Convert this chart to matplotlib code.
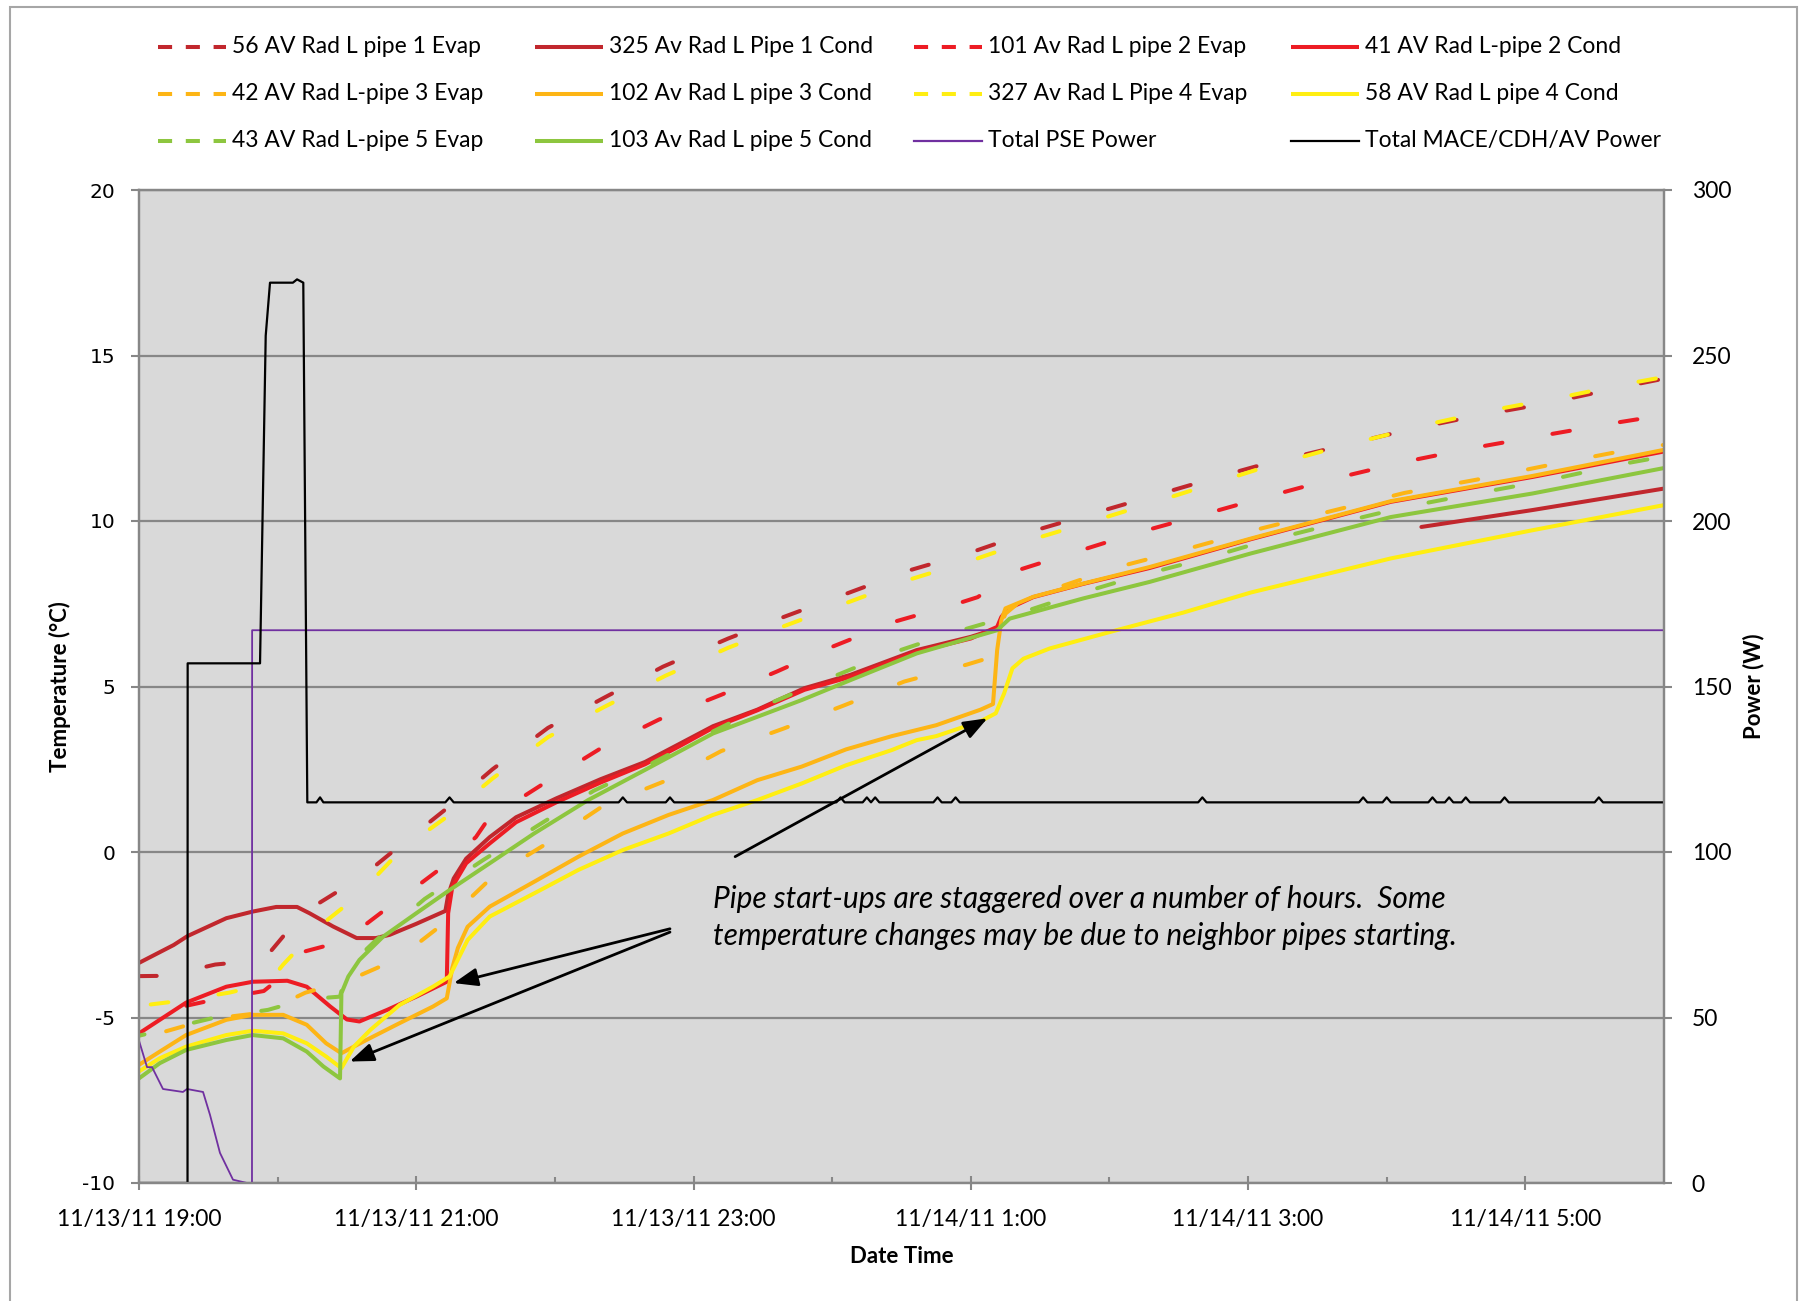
import numpy as np
import matplotlib
matplotlib.use("Agg")
import matplotlib.pyplot as plt
from matplotlib.lines import Line2D
from matplotlib.patches import Rectangle

plt.rcParams['font.family'] = ['Lato', 'DejaVu Sans']
plt.rcParams['axes.unicode_minus'] = False

FIG_W, FIG_H, DPI = 1803, 1301, 100

# ---------------- data (x = hours after 11/13/11 19:00) ----------------
x_tick_hours = [0, 2, 4, 6, 8, 10]
x_tick_labels = ["11/13/11 19:00", "11/13/11 21:00", "11/13/11 23:00",
                 "11/14/11 1:00", "11/14/11 3:00", "11/14/11 5:00"]
temp_ticks = [-10, -5, 0, 5, 10, 15, 20]
power_ticks = [0, 50, 100, 150, 200, 250, 300]

# 56 AV Rad L pipe 1 Evap
t_p1_evap = [0.0, 0.2, 0.55, 0.8, 0.95, 1.05, 1.2, 1.45, 1.65, 1.87, 2.2, 2.55, 2.95, 3.35,
             3.78, 4.25, 4.65, 5.1, 5.55, 6.0, 6.45, 6.9, 7.35, 7.8, 8.1, 8.6, 9.15, 9.65,
             10.15, 10.7, 11.0]
T_p1_evap = [-3.75, -3.74, -3.4, -3.3, -3.0, -2.5, -1.8, -1.15, -0.6, 0.15, 1.25, 2.5, 3.75, 4.65,
             5.6, 6.45, 7.1, 7.8, 8.5, 9.05, 9.7, 10.25, 10.8, 11.35, 11.7, 12.2, 12.75, 13.18,
             13.55, 14.05, 14.3]
# 325 Av Rad L Pipe 1 Cond
t_p1_cond = [0.0, 0.25, 0.35, 0.63, 0.82, 0.99, 1.14, 1.23, 1.40, 1.57, 1.71, 1.81, 2.0, 2.21,
             2.23, 2.27, 2.36, 2.53, 2.72, 3.01, 3.33, 3.65, 3.9, 4.14, 4.46, 4.8, 5.13, 5.61,
             6.0, 6.19, 6.2, 9.25, 10.05, 11.0]
T_p1_cond = [-3.35, -2.81, -2.54, -2.0, -1.8, -1.66, -1.66, -1.85, -2.25, -2.6, -2.6, -2.5, -2.17, -1.78,
             -1.3, -0.8, -0.2, 0.45, 1.05, 1.62, 2.2, 2.72, 3.27, 3.8, 4.3, 4.95, 5.35, 6.1,
             6.5, 6.75, np.nan, 9.82, 10.33, 10.98]
# 101 Av Rad L pipe 2 Evap
t_p2_evap = [0.0, 0.15, 0.5, 0.9, 1.05, 1.2, 1.45, 1.6, 1.82, 2.0, 2.2, 2.43, 2.52, 2.92, 3.33,
             3.75, 4.2, 4.6, 5.0, 5.46, 5.9, 6.05, 6.22, 6.36, 6.73, 7.18, 7.62, 8.08, 8.6, 9.12,
             9.64, 10.15, 10.67, 11.0]
T_p2_evap = [-4.95, -4.82, -4.5, -4.2, -3.7, -3.0, -2.72, -2.3, -1.6, -1.05, -0.42, 0.45, 1.0, 2.07, 3.13,
             4.0, 4.75, 5.45, 6.2, 6.97, 7.5, 7.7, 8.2, 8.54, 9.03, 9.62, 10.13, 10.67, 11.26, 11.78,
             12.22, 12.6, 12.98, 13.2]
# 41 AV Rad L-pipe 2 Cond
t_p2_cond = [0.0, 0.15, 0.34, 0.63, 0.82, 1.07, 1.21, 1.38, 1.50, 1.59, 1.79, 2.0, 2.22, 2.23,
             2.26, 2.36, 2.53, 2.72, 3.01, 3.33, 3.65, 3.9, 4.14, 4.46, 4.8, 5.13, 5.61, 6.0,
             6.19, 6.22, 6.27, 6.45, 6.81, 7.29, 8.02, 9.03, 10.05, 11.0]
T_p2_cond = [-5.48, -5.07, -4.55, -4.07, -3.92, -3.89, -4.07, -4.67, -5.06, -5.12, -4.77, -4.37, -3.92, -1.85,
             -1.05, -0.34, 0.26, 0.9, 1.5, 2.1, 2.65, 3.2, 3.75, 4.28, 4.9, 5.29, 6.05, 6.45,
             6.8, 7.1, 7.35, 7.7, 8.1, 8.58, 9.45, 10.58, 11.33, 12.1]
# 42 AV Rad L-pipe 3 Evap
t_p3_evap = [0.0, 0.5, 0.9, 1.2, 1.5, 1.8, 2.0, 2.2, 2.55, 2.95, 3.35, 3.78, 4.2, 4.65, 5.08,
             5.52, 5.97, 6.12, 6.25, 6.35, 6.62, 7.07, 7.52, 7.96, 8.1, 8.6, 9.13, 9.65, 10.16,
             10.68, 11.0]
T_p3_evap = [-5.65, -5.05, -4.85, -4.25, -3.9, -3.35, -2.8, -2.15, -0.75, 0.28, 1.4, 2.12, 3.05, 3.73, 4.42,
             5.15, 5.66, 5.85, 7.2, 7.55, 7.98, 8.62, 9.11, 9.62, 9.78, 10.3, 10.85, 11.25, 11.68,
             12.1, 12.3]
# 102 Av Rad L pipe 3 Cond
t_p3_cond = [0.0, 0.15, 0.34, 0.63, 0.82, 1.04, 1.21, 1.35, 1.46, 1.64, 1.88, 2.12, 2.22, 2.26,
             2.3, 2.37, 2.53, 2.85, 3.17, 3.49, 3.82, 4.14, 4.46, 4.78, 5.1, 5.43, 5.75, 6.07,
             6.16, 6.19, 6.22, 6.25, 6.45, 6.81, 7.29, 8.02, 9.03, 10.05, 11.0]
T_p3_cond = [-6.43, -6.03, -5.53, -5.07, -4.92, -4.92, -5.22, -5.78, -6.08, -5.68, -5.17, -4.67, -4.42, -3.5,
             -2.9, -2.26, -1.65, -0.9, -0.14, 0.56, 1.12, 1.57, 2.17, 2.58, 3.1, 3.5, 3.83, 4.3,
             4.47, 6.1, 7.0, 7.36, 7.71, 8.11, 8.61, 9.47, 10.6, 11.36, 12.15]
# 327 Av Rad L Pipe 4 Evap
t_p4_evap = [0.0, 0.25, 0.65, 0.85, 0.97, 1.04, 1.3, 1.48, 1.65, 1.82, 2.0, 2.2, 2.55, 2.95, 3.35,
             3.8, 4.25, 4.65, 5.1, 5.55, 6.0, 6.45, 6.9, 7.35, 7.8, 8.1, 8.6, 9.35, 9.8, 10.25,
             10.7, 11.0]
T_p4_evap = [-4.65, -4.52, -4.25, -4.05, -3.76, -3.4, -2.25, -1.65, -1.0, -0.25, 0.4, 1.0, 2.22, 3.47, 4.37,
             5.33, 6.17, 6.82, 7.52, 8.22, 8.8, 9.45, 10.02, 10.6, 11.2, 11.6, 12.18, 12.97, 13.38, 13.73,
             14.12, 14.35]
# 58 AV Rad L pipe 4 Cond
t_p4_cond = [0.0, 0.15, 0.34, 0.63, 0.82, 1.04, 1.21, 1.35, 1.46, 1.55, 1.67, 1.88, 2.12, 2.24,
             2.37, 2.53, 2.85, 3.17, 3.49, 3.82, 4.14, 4.46, 4.78, 5.1, 5.43, 5.61, 5.75, 6.07,
             6.18, 6.24, 6.30, 6.38, 6.57, 7.05, 7.53, 8.02, 9.03, 10.05, 11.0]
T_p4_cond = [-6.63, -6.23, -5.88, -5.53, -5.4, -5.48, -5.78, -6.18, -6.53, -5.88, -5.37, -4.62, -4.07, -3.76,
             -2.66, -1.95, -1.25, -0.54, 0.06, 0.56, 1.12, 1.57, 2.07, 2.62, 3.08, 3.38, 3.5, 3.95,
             4.19, 4.79, 5.55, 5.84, 6.15, 6.7, 7.23, 7.84, 8.87, 9.72, 10.48]
# 43 AV Rad L-pipe 5 Evap
t_p5_evap = [0.0, 0.1, 0.55, 0.93, 1.2, 1.45, 1.5, 1.7, 2.06, 2.48, 2.87, 3.28, 3.7, 4.12, 4.55,
             4.95, 5.4, 5.85, 6.32, 6.76, 7.2, 7.66, 8.07, 8.61, 9.13, 9.64, 10.16, 10.67, 11.0]
T_p5_evap = [-5.55, -5.45, -5.0, -4.77, -4.45, -4.37, -3.5, -2.7, -1.42, -0.25, 0.78, 1.85, 2.68, 3.6, 4.49,
             5.2, 5.97, 6.6, 7.17, 7.78, 8.33, 8.83, 9.33, 9.9, 10.42, 10.83, 11.23, 11.7, 11.95]
# 103 Av Rad L pipe 5 Cond
t_p5_cond = [0.0, 0.15, 0.34, 0.63, 0.82, 1.04, 1.21, 1.33, 1.45, 1.46, 1.51, 1.59, 1.76, 2.0,
             2.24, 2.53, 2.85, 3.24, 3.65, 4.14, 4.78, 5.13, 5.61, 6.19, 6.28, 6.81, 7.29, 8.02,
             9.03, 10.05, 11.0]
T_p5_cond = [-6.84, -6.38, -5.98, -5.68, -5.53, -5.63, -6.03, -6.48, -6.84, -4.27, -3.76, -3.26, -2.56, -1.85,
             -1.15, -0.34, 0.56, 1.57, 2.48, 3.58, 4.59, 5.19, 6.0, 6.7, 7.05, 7.66, 8.16, 9.02,
             10.12, 10.83, 11.6]
# Total PSE Power (W)
t_pse = [0.0, 0.058, 0.094, 0.173, 0.317, 0.346, 0.462, 0.512, 0.584, 0.678, 0.779, 0.815, 0.816, 11.0]
P_pse = [43, 35, 35, 28.4, 27.5, 28.4, 27.5, 20.6, 9.1, 1, 0, 0, 167, 167]
# Total MACE/CDH/AV Power (W)
t_mace = [0.0, 0.35, 0.351, 0.873, 0.914, 0.945, 1.11, 1.14, 1.185, 1.214,
          1.28, 1.306, 1.33, 2.21, 2.24, 2.27, 3.46, 3.49, 3.52, 3.80, 3.83, 3.86,
          5.03, 5.06, 5.09, 5.22, 5.25, 5.28, 5.31, 5.34, 5.73, 5.76, 5.79, 5.86, 5.89, 5.92,
          7.64, 7.67, 7.70, 8.80, 8.83, 8.86, 8.97, 9.00, 9.03, 9.30, 9.33, 9.36, 9.42, 9.45,
          9.48, 9.54, 9.57, 9.60, 9.82, 9.85, 9.88, 10.50, 10.53, 10.56, 11.0]
P_mace = [0, 0, 157, 157, 256, 272, 272, 273, 272, 115,
          115, 116.5, 115, 115, 116.5, 115, 115, 116.5, 115, 115, 116.5, 115,
          115, 116.5, 115, 115, 116.5, 115, 116.5, 115, 115, 116.5, 115, 115, 116.5, 115,
          115, 116.5, 115, 115, 116.5, 115, 115, 116.5, 115, 115, 116.5, 115, 115, 116.5,
          115, 115, 116.5, 115, 115, 116.5, 115, 115, 116.5, 115, 115]

note_lines = ["Pipe start-ups are staggered over a number of hours.  Some",
              "temperature changes may be due to neighbor pipes starting."]

# ---------------- styles ----------------
C_P1 = "#C1272D"
C_P2 = "#ED1C24"
C_P3 = "#FDB515"
C_P4 = "#FFEE11"
C_P5 = "#8DC63F"
C_PSE = "#7030A0"
C_MACE = "#000000"
LW = 2.9
DASH_PLOT = (4.4, 12.6)
DASH_LEG = (3.5, 3.4)

temp_series = [
    ("56 AV Rad L pipe 1 Evap", t_p1_evap, T_p1_evap, C_P1, True),
    ("325 Av Rad L Pipe 1 Cond", t_p1_cond, T_p1_cond, C_P1, False),
    ("101 Av Rad L pipe 2 Evap", t_p2_evap, T_p2_evap, C_P2, True),
    ("41 AV Rad L-pipe 2 Cond", t_p2_cond, T_p2_cond, C_P2, False),
    ("42 AV Rad L-pipe 3 Evap", t_p3_evap, T_p3_evap, C_P3, True),
    ("102 Av Rad L pipe 3 Cond", t_p3_cond, T_p3_cond, C_P3, False),
    ("327 Av Rad L Pipe 4 Evap", t_p4_evap, T_p4_evap, C_P4, True),
    ("58 AV Rad L pipe 4 Cond", t_p4_cond, T_p4_cond, C_P4, False),
    ("43 AV Rad L-pipe 5 Evap", t_p5_evap, T_p5_evap, C_P5, True),
    ("103 Av Rad L pipe 5 Cond", t_p5_cond, T_p5_cond, C_P5, False),
]

GRID_C = "#878787"
BG_C = "#D9D9D9"

fig = plt.figure(figsize=(FIG_W / DPI, FIG_H / DPI), dpi=DPI)
ax_l, ax_r, ax_t, ax_b = 139, 1664, 190, 1183
ax = fig.add_axes([ax_l / FIG_W, 1 - ax_b / FIG_H, (ax_r - ax_l) / FIG_W, (ax_b - ax_t) / FIG_H])
ax.set_facecolor(BG_C)
ax.set_xlim(0, 11)
ax.set_ylim(-10, 20)
ax.set_yticks(temp_ticks)
ax.set_xticks(x_tick_hours)
ax.set_xticklabels(x_tick_labels, fontsize=16.5)
ax.set_xticks(range(1, 11, 2), minor=True)
for lab in ax.get_yticklabels():
    lab.set_fontfamily('DejaVu Sans')
    lab.set_fontsize(14.5)
ax.yaxis.grid(True, color=GRID_C, lw=1.6)
ax.set_axisbelow(True)
for s in ax.spines.values():
    s.set_color(GRID_C)
    s.set_linewidth(1.6)
ax.tick_params(axis='y', direction='out', length=6, width=1.5, color=GRID_C, pad=11)
ax.tick_params(axis='x', which='major', direction='inout', length=10, width=1.5, color=GRID_C, pad=14)
ax.tick_params(axis='x', which='minor', direction='in', length=4, width=1.5, color=GRID_C)


def path_len_pts(t, T, upto):
    """Display path length (points) of a series from its start to time `upto`."""
    tt = np.asarray(t, float)
    yy = np.asarray(T, float)
    m = tt <= upto
    xy = ax.transData.transform(np.column_stack([tt[m], yy[m]]))
    seg = np.hypot(np.diff(xy[:, 0]), np.diff(xy[:, 1]))
    return np.nansum(seg) * 72.0 / DPI


# keep the dash phases of the pipe-1 / pipe-4 evaporator traces in step where they merge
period = sum(DASH_PLOT) * LW
sync = path_len_pts(t_p1_evap, T_p1_evap, 2.2) - path_len_pts(t_p4_evap, T_p4_evap, 2.2)
dash_offsets = {
    "56 AV Rad L pipe 1 Evap": 0.0,
    "101 Av Rad L pipe 2 Evap": 5.0,
    "42 AV Rad L-pipe 3 Evap": 10.0,
    "327 Av Rad L Pipe 4 Evap": (sync % period) / LW,
    "43 AV Rad L-pipe 5 Evap": 3.0,
}

for name, t, T, c, dashed in temp_series:
    if dashed:
        ax.plot(t, T, color=c, lw=LW, ls=(dash_offsets[name], DASH_PLOT), dash_capstyle='round',
                solid_joinstyle='round')
    else:
        ax.plot(t, T, color=c, lw=LW, solid_capstyle='round', solid_joinstyle='round')

ax2 = ax.twinx()
ax2.set_ylim(0, 300)
ax2.set_yticks(power_ticks)
for lab in ax2.get_yticklabels():
    lab.set_fontsize(16.5)
for s in ax2.spines.values():
    s.set_color(GRID_C)
    s.set_linewidth(1.6)
ax2.tick_params(axis='y', direction='out', length=6, width=1.5, color=GRID_C, pad=14)
ax2.plot(t_pse, P_pse, color=C_PSE, lw=1.3)
ax2.plot(t_mace, P_mace, color=C_MACE, lw=1.6)

# axis titles
ax.text(-0.0518, 0.5, "Temperature (°C)", rotation=90, ha='center', va='center',
        transform=ax.transAxes, fontsize=16, fontweight='bold')
ax.text(1.0590, 0.5, "Power (W)", rotation=90, ha='center', va='center',
        transform=ax.transAxes, fontsize=16, fontweight='bold')
ax.text(0.5, -0.0745, "Date Time", ha='center', va='center',
        transform=ax.transAxes, fontsize=16, fontweight='bold')

# annotation text and arrows (data coords of temperature axis)
ax2.text(4.14, -1.42, note_lines[0], transform=ax.transData, ha='left', va='center',
         fontsize=21.5, style='italic')
ax2.text(4.14, -2.54, note_lines[1], transform=ax.transData, ha='left', va='center',
         fontsize=21.5, style='italic')
arrow_kw = dict(arrowstyle='-|>,head_length=1.45,head_width=0.55', color='black', lw=2.0,
                shrinkA=0, shrinkB=0, mutation_scale=10)
ax2.annotate("", xy=(2.27, -3.96), xycoords=ax.transData, xytext=(3.83, -2.32),
             textcoords=ax.transData, arrowprops=arrow_kw)
ax2.annotate("", xy=(1.52, -6.33), xycoords=ax.transData, xytext=(3.83, -2.42),
             textcoords=ax.transData, arrowprops=arrow_kw)
ax2.annotate("", xy=(6.12, 4.04), xycoords=ax.transData, xytext=(4.30, -0.14),
             textcoords=ax.transData, arrowprops=arrow_kw)

# legend (4 columns, row-major like the source)
leg_entries = [s[0] for s in temp_series] + ["Total PSE Power", "Total MACE/CDH/AV Power"]
leg_styles = [(s[3], s[4]) for s in temp_series]
col_x = [158, 535, 914, 1291]
row_y = [46.5, 93.5, 140.5]
handle_len = 68
for k in range(12):
    r, cidx = divmod(k, 4)
    x0 = col_x[cidx]
    y = 1 - row_y[r] / FIG_H
    xs = [x0 / FIG_W, (x0 + handle_len) / FIG_W]
    if k < 10:
        c, dashed = leg_styles[k]
        if dashed:
            ln = Line2D(xs, [y, y], transform=fig.transFigure, color=c, lw=LW,
                        ls=(0, DASH_LEG), dash_capstyle='butt')
        else:
            ln = Line2D(xs, [y, y], transform=fig.transFigure, color=c, lw=LW,
                        solid_capstyle='butt')
    elif k == 10:
        ln = Line2D(xs, [y, y], transform=fig.transFigure, color=C_PSE, lw=1.6)
    else:
        ln = Line2D(xs, [y, y], transform=fig.transFigure, color=C_MACE, lw=1.6)
    fig.add_artist(ln)
    fig.text((x0 + handle_len + 6) / FIG_W, y, leg_entries[k], ha='left', va='center',
             fontsize=16.5)

# outer frame
fig.add_artist(Rectangle((10 / FIG_W, -0.01), (1797 - 10) / FIG_W, 1.01 - 7 / FIG_H,
                         transform=fig.transFigure, fill=False, ec='#A6A6A6', lw=1.5))

fig.savefig("out.png", dpi=DPI)
